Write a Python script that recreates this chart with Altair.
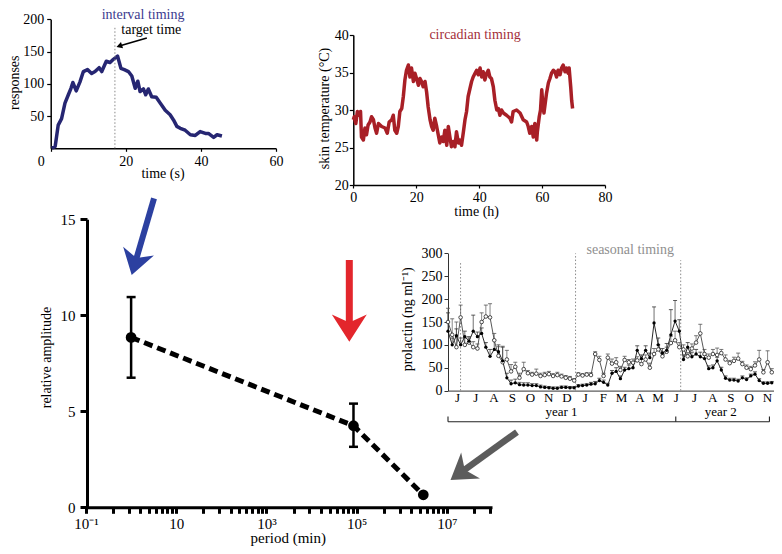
import altair as alt
import pandas as pd

FONT = "Liberation Serif"
W, H = 766, 538

# ---------------- interval timing (top left) ----------------
a_time = [0.3, 1.2, 2.0, 2.9, 3.8, 4.7, 5.4, 5.9, 6.8, 7.8, 8.7, 9.8, 10.9, 11.8, 12.9, 13.6,
          14.8, 15.8, 16.7, 17.8, 18.7, 19.6, 20.7, 21.6, 22.5, 23.2, 23.8, 24.7, 25.3, 26.0,
          26.9, 28.1, 29.2, 30.5, 31.8, 32.7, 33.6, 34.5, 35.8, 37.2, 38.5, 39.8, 41.2, 42.0,
          43.4, 44.3, 45.6]
a_resp = [0, 3, 36, 46, 70, 83, 93, 102, 89, 103, 119, 122, 116, 119, 125, 119,
          135, 133, 138, 143, 124, 122, 119, 112, 93, 104, 88, 92, 83, 92,
          80, 79, 70, 59, 52, 44, 34, 31, 28, 21, 20, 26, 23, 23,
          17, 21, 19]
a_target_time = [17.1]
a_target_top = [190]
a_title = ["interval timing"]
a_title_pos = [24.6, 206.5]
a_note = ["target time"]
a_note_pos = [18.8, 184]
a_arrow_tail = [25.6, 171]
a_arrow_head = [18.5, 159]
a_xtitle = ["time (s)"]
a_xtitle_pos = [29.9, -39.8]
a_ytitle = ["responses"]
a_ytitle_pos = [-9.5, 101.7]

# ---------------- circadian timing (top middle) ----------------
b_time = [0, 0.3, 0.8, 1.3, 1.9, 2.3, 2.6, 3.2, 3.7, 4.2, 4.7, 5.3, 5.8, 6.4, 6.9, 7.4,
          8.0, 9.0, 10.1, 10.8, 11.4, 12.2, 12.7, 13.2, 13.8, 14.3, 14.8, 15.4, 15.9, 16.4,
          16.9, 17.5, 18.0, 18.5, 19.1, 19.6, 20.1, 20.7, 21.2, 21.7, 22.2, 22.8, 23.3, 23.8,
          24.4, 24.9, 25.4, 25.9, 26.5, 27.0, 27.5, 28.1, 28.6, 29.1, 29.7, 30.2, 30.7, 31.2,
          31.8, 32.3, 32.8, 33.4, 33.9, 34.4, 35.0, 35.5, 36.0, 36.5, 37.1, 37.6, 38.1, 38.7,
          39.2, 39.7, 40.3, 40.8, 41.3, 41.8, 42.4, 42.9, 43.4, 43.9, 44.5, 45.0, 45.6, 46.1,
          46.6, 47.1, 47.7, 48.7, 49.8, 50.3, 50.8, 51.9, 53.0, 54.0, 55.1, 55.6, 56.1, 56.7,
          57.2, 57.7, 58.3, 58.5, 59.1, 59.5, 59.9, 60.2, 60.6, 61.0, 61.4, 62.0, 62.5, 63.0,
          63.6, 64.1, 64.6, 65.1, 65.7, 66.2, 66.7, 67.3, 67.8, 68.3, 68.6, 69.1, 69.4, 69.7]
b_temp = [28.7, 29.1, 28.2, 29.8, 29.3, 29.8, 26.4, 26.0, 27.6, 26.7, 28.0, 28.4, 29.1, 28.7, 27.6, 26.9,
          28.2, 27.8, 27.6, 26.9, 28.4, 28.7, 29.3, 27.3, 26.9, 27.8, 29.8, 30.2, 31.8, 34.0,
          35.3, 36.0, 34.4, 35.6, 33.8, 34.9, 34.2, 33.3, 34.2, 33.8, 33.1, 33.8, 32.4, 30.4,
          28.7, 27.8, 27.3, 28.9, 27.8, 26.7, 25.6, 26.4, 25.8, 27.3, 25.3, 27.8, 26.4, 25.1,
          25.8, 25.1, 27.1, 25.6, 26.0, 25.3, 27.1, 28.7, 29.8, 31.8, 32.9, 33.8, 34.4, 34.9,
          35.3, 34.7, 35.6, 34.4, 35.1, 34.0, 34.9, 35.3, 34.4, 34.2, 33.1, 31.3, 30.0, 30.2,
          29.3, 30.0, 29.6, 29.3, 28.9, 28.4, 29.8, 30.0, 29.6, 28.7, 28.4, 27.8, 26.9, 27.8,
          26.4, 28.2, 26.0, 27.1, 29.1, 30.0, 32.7, 30.9, 29.6, 30.9, 32.2, 33.6, 34.2, 34.9,
          35.3, 35.1, 34.4, 35.3, 34.7, 35.6, 36.0, 35.1, 35.6, 34.9, 35.6, 33.1, 31.3, 30.2]
b_title = ["circadian timing"]
b_title_pos = [38.7, 40]
b_xtitle = ["time (h)"]
b_xtitle_pos = [39.2, 16.44]
b_ytitle = ["skin temperature (°C)"]
b_ytitle_pos = [-9.0, 30.2]

# ---------------- seasonal timing (right) ----------------
c_week = list(range(78))
c_filled = [130, 100, 120, 100, 118, 108, 130, 118, 125, 95,
            75, 90, 85, 65, 28, 15, 17, 13, 12, 12,
            11, 11, 8, 7, 6, 5, 5, 7, 7, 6,
            6, 10, 11, 12, 14, 15, 22, 18, 12, 38,
            42, 26, 45, 48, 50, 88, 70, 88, 72, 148,
            100, 82, 88, 122, 152, 130, 68, 95, 74, 80,
            74, 70, 48, 50, 65, 45, 27, 23, 23, 21,
            28, 24, 32, 36, 22, 16, 16, 17]
c_open = [150, 122, 95, 160, 100, 105, 95, 92, 150, 162,
          160, 110, 76, 62, 68, 42, 52, 28, 47, 38,
          35, 37, 32, 34, 36, 32, 34, 31, 28, 26,
          22, 35, 33, 35, 34, 80, 67, 32, 72, 59,
          62, 45, 67, 62, 61, 66, 58, 68, 50, 80,
          90, 75, 85, 104, 110, 95, 90, 75, 92, 105,
          125, 80, 72, 80, 78, 82, 68, 60, 65, 70,
          58, 50, 47, 55, 68, 40, 62, 40]
c_filled_err = [40, 15, 15, 15, 12, 10, 35, 10, 12, 10,
                15, 20, 15, 30, 10, 8, 8, 5, 5, 5,
                4, 4, 4, 3, 3, 3, 3, 3, 3, 3,
                3, 3, 3, 3, 4, 5, 5, 5, 4, 6,
                8, 6, 6, 8, 10, 10, 8, 10, 10, 35,
                15, 10, 15, 55, 45, 25, 10, 10, 10, 10,
                10, 8, 6, 6, 8, 6, 5, 4, 4, 4,
                4, 4, 4, 5, 4, 3, 3, 3]
c_open_err = [30, 35, 55, 27, 15, 10, 12, 10, 20, 25,
              30, 15, 20, 35, 20, 15, 10, 10, 15, 6,
              5, 10, 6, 6, 6, 5, 6, 5, 5, 5,
              4, 4, 4, 4, 5, 5, 8, 6, 8, 10,
              10, 8, 8, 6, 8, 8, 10, 10, 10, 12,
              10, 10, 10, 15, 20, 10, 10, 8, 10, 15,
              20, 10, 8, 10, 15, 8, 10, 6, 8, 12,
              6, 6, 6, 8, 20, 6, 25, 8]
c_months = ["J", "J", "A", "S", "O", "N", "D", "J", "F", "M", "A", "M",
            "J", "J", "A", "S", "O", "N"]
c_solstice = [0.69, 7.0, 12.77]
c_solstice_top = [280, 300, 285]
c_title = ["seasonal timing"]
c_title_pos = [10.0, 307]
c_years = ["year 1", "year 2"]
c_year_x = [6.23, 14.97]
c_year_y = [-47, -47]
c_bracket_x = [0.0, 12.5, 17.64]
c_bracket_y = [-68, -56.6]
c_ytitle = ["prolactin (ng ml⁻¹)"]
c_ytitle_pos = [-2.18, 156]

# ---------------- main panel ----------------
d_period = [1.0, 8.5e4, 3.0e6]
d_amp = [8.85, 4.25, 0.65]
d_err_period = [1.0, 8.5e4]
d_err_lo = [6.75, 3.15]
d_err_hi = [10.95, 5.4]
d_major_ticks = [0.1, 10.0, 1e3, 1e5, 1e7]
d_major_labels = ["10⁻¹", "10", "10³", "10⁵", "10⁷"]
d_arrow_blue = [[3.22, 16.09], [1.29, 12.9]]
d_arrow_red = [[6.87e4, 12.88], [6.87e4, 9.54]]
d_arrow_grey = [[3.58e8, 3.92], [2.33e7, 1.91]]
d_xtitle = ["period (min)"]
d_xtitle_pos = [3055, -1.62]
d_ytitle = ["relative amplitude"]
d_ytitle_pos = [0.0135, 7.8]


def X(f, sc, axis=None):
    return alt.X(f, type="quantitative", scale=sc, axis=axis)


def Y(f, sc, axis=None):
    return alt.Y(f, type="quantitative", scale=sc, axis=axis)


def label(txt, pos, xs, ys, size=14, color="black", angle=0, align="center"):
    df = pd.DataFrame({"x": [pos[0]], "y": [pos[1]], "s": txt})
    return alt.Chart(df).mark_text(font=FONT, fontSize=size, fontWeight="normal", color=color,
                                   angle=angle, align=align, baseline="middle").encode(
        x=X("x", xs), y=Y("y", ys), text="s:N")


AX = dict(labelFontWeight=400, labelFont=FONT, grid=False, title=None)
layers = []

# ================= panel A =================
xA = alt.Scale(domain=[0, 60], range=[42.7, 268], nice=False, zero=False)
yA = alt.Scale(domain=[0, 200], range=[140.3, 11.3], nice=False, zero=False)
axA_x = alt.Axis(orient="bottom", offset=140.3 - H, values=[0, 20, 40, 60],
                 labelFontSize=14, tickSize=3, labelPadding=3,
                 domainWidth=1.5, tickWidth=1.2, labelFlush=False,
                 labelOffset={"condition": {"test": "datum.value === 0", "value": -10}, "value": 0}, **AX)
axA_y = alt.Axis(orient="left", offset=-42.7, values=[50, 100, 150, 200],
                 labelFontSize=14, tickSize=4, labelPadding=3,
                 domainWidth=1.5, tickWidth=1.2, **AX)

dfA = pd.DataFrame({"t": a_time, "r": a_resp})
layers.append(alt.Chart(dfA).mark_line(color="#262672", strokeWidth=3.5, strokeJoin="round").encode(
    x=X("t", xA, axA_x), y=Y("r", yA, axA_y)))
layers.append(alt.Chart(pd.DataFrame({"x": a_target_time, "y0": [0], "y1": a_target_top})).mark_rule(
    color="#888888", strokeWidth=1, strokeDash=[1.5, 2]).encode(
    x=X("x", xA), y=Y("y0", yA), y2="y1:Q"))
layers.append(label(a_title, a_title_pos, xA, yA, color="#3b3b8f"))
layers.append(label(a_note, a_note_pos, xA, yA, align="left"))
layers.append(label(a_xtitle, a_xtitle_pos, xA, yA))
layers.append(label(a_ytitle, a_ytitle_pos, xA, yA, angle=270))
layers.append(alt.Chart(pd.DataFrame({"x": [a_arrow_tail[0]], "y": [a_arrow_tail[1]],
                                      "x2": [a_arrow_head[0]], "y2": [a_arrow_head[1]]})).mark_rule(
    color="black", strokeWidth=1.6).encode(x=X("x", xA), y=Y("y", yA), x2="x2:Q", y2="y2:Q"))
layers.append(alt.Chart(pd.DataFrame({"x": [a_arrow_head[0]], "y": [a_arrow_head[1]]})).mark_point(
    shape="triangle", filled=True, size=45, angle=252, color="black", opacity=1).encode(
    x=X("x", xA), y=Y("y", yA)))

# ================= panel B =================
xB = alt.Scale(domain=[0, 80], range=[345.3, 597], nice=False, zero=False)
yB = alt.Scale(domain=[20, 40], range=[177, 27], nice=False, zero=False)
axB_x = alt.Axis(orient="bottom", offset=177 - H, values=[0, 20, 40, 60, 80],
                 labelFontSize=14, tickSize=3, labelPadding=2,
                 domainWidth=1.5, tickWidth=1.2, labelFlush=False, **AX)
axB_y = alt.Axis(orient="left", offset=-345.3, values=[20, 25, 30, 35, 40],
                 labelFontSize=14, tickSize=4, labelPadding=1,
                 domainWidth=1.5, tickWidth=1.2, **AX)
dfB = pd.DataFrame({"t": b_time, "c": b_temp})
layers.append(alt.Chart(dfB).mark_line(color="#a81f26", strokeWidth=3.5, strokeJoin="round").encode(
    x=X("t", xB, axB_x), y=Y("c", yB, axB_y)))
layers.append(label(b_title, b_title_pos, xB, yB, color="#a3303a"))
layers.append(label(b_xtitle, b_xtitle_pos, xB, yB))
layers.append(label(b_ytitle, b_ytitle_pos, xB, yB, angle=270))

# ================= panel C =================
xC = alt.Scale(domain=[0, 18], range=[440, 768], nice=False, zero=False)
yC = alt.Scale(domain=[0, 300], range=[382.6, 245.4], nice=False, zero=False)
month_expr = "[" + ",".join("'%s'" % m for m in c_months) + "][floor(datum.value)]"
axC_x = alt.Axis(orient="bottom", offset=382.6 - H, values=[i + 0.5 for i in range(len(c_months))],
                 labelExpr=month_expr, labelFontSize=13, ticks=False, tickSize=0,
                 labelPadding=1, domainWidth=1, domainColor="#333333", labelFlush=False, **AX)
axC_y = alt.Axis(orient="left", offset=-440, values=[0, 50, 100, 150, 200, 250, 300],
                 labelFontSize=14, tickSize=4, labelPadding=2, domainWidth=1,
                 domainColor="#333333", tickColor="#333333", **AX)

dfC = pd.DataFrame({"week": c_week, "F": c_filled, "O": c_open, "Fe": c_filled_err, "Oe": c_open_err})
dfC["m"] = dfC["week"] * 12 / 52
dfC["Fh"] = dfC["F"] + dfC["Fe"]
dfC["Oh"] = dfC["O"] + dfC["Oe"]

layers.append(alt.Chart(dfC).mark_line(color="#111111", strokeWidth=0.9).encode(
    x=X("m", xC, axC_x), y=Y("F", yC, axC_y)))
layers.append(alt.Chart(pd.DataFrame({"x": c_solstice, "y0": [0, 0, 0], "y1": c_solstice_top})).mark_rule(
    color="#8a8a8a", strokeWidth=1, strokeDash=[1.5, 2]).encode(x=X("x", xC), y=Y("y0", yC), y2="y1:Q"))
layers.append(alt.Chart(dfC).mark_rule(color="#555555", strokeWidth=0.7).encode(
    x=X("m", xC), y=Y("O", yC), y2="Oh:Q"))
layers.append(alt.Chart(dfC).mark_point(shape="stroke", size=16, strokeWidth=0.8, color="#555555", opacity=1).encode(
    x=X("m", xC), y=Y("Oh", yC)))
layers.append(alt.Chart(dfC).mark_rule(color="#333333", strokeWidth=0.7).encode(
    x=X("m", xC), y=Y("F", yC), y2="Fh:Q"))
layers.append(alt.Chart(dfC).mark_point(shape="stroke", size=16, strokeWidth=0.8, color="#333333", opacity=1).encode(
    x=X("m", xC), y=Y("Fh", yC)))
layers.append(alt.Chart(dfC).mark_line(color="#444444", strokeWidth=0.9).encode(
    x=X("m", xC), y=Y("O", yC)))
layers.append(alt.Chart(dfC).mark_point(shape="circle", filled=True, fill="white", stroke="#222222",
                                        strokeWidth=0.8, size=13, opacity=1).encode(
    x=X("m", xC), y=Y("O", yC)))
layers.append(alt.Chart(dfC).mark_point(shape="circle", filled=True, size=11, color="black", opacity=1).encode(
    x=X("m", xC), y=Y("F", yC)))
layers.append(label(c_title, c_title_pos, xC, yC, color="#8f8f8f"))
layers.append(label(c_ytitle, c_ytitle_pos, xC, yC, angle=270))
layers.append(alt.Chart(pd.DataFrame({"x": [c_bracket_x[0]], "x2": [c_bracket_x[-1]], "y": [c_bracket_y[0]]})).mark_rule(
    color="#222222", strokeWidth=1.1).encode(x=X("x", xC), x2="x2:Q", y=Y("y", yC)))
layers.append(alt.Chart(pd.DataFrame({"x": c_bracket_x, "y": [c_bracket_y[0]] * 3, "y2": [c_bracket_y[1]] * 3})).mark_rule(
    color="#222222", strokeWidth=1.1).encode(x=X("x", xC), y=Y("y", yC), y2="y2:Q"))
layers.append(alt.Chart(pd.DataFrame({"x": c_year_x, "y": c_year_y, "s": c_years})).mark_text(
    font=FONT, fontSize=13, color="black").encode(x=X("x", xC), y=Y("y", yC), text="s:N"))

# ================= panel D (main) =================
xD = alt.Scale(type="log", domain=[0.1, 1e8], range=[78, 484], nice=False)
yD = alt.Scale(domain=[0, 15], range=[499.3, 211.3], nice=False, zero=False)
tick_vals = []
for mj in d_major_ticks:
    for k in range(1, 10):
        v = mj * k * k
        if v <= 1e8:
            tick_vals.append(v)
label_expr = "".join("datum.value == %r ? '%s' : " % (v, lab)
                     for v, lab in zip(d_major_ticks, d_major_labels)) + "''"
axD_x = alt.Axis(orient="bottom", offset=499.3 - H, values=tick_vals, labelExpr=label_expr,
                 labelFontSize=15, tickSize=6, tickWidth=3, domainWidth=3, labelPadding=3,
                 labelFlush=False, labelOverlap=False, **AX)
axD_y = alt.Axis(orient="left", offset=-79, values=[0, 5, 10, 15],
                 labelFontSize=15, tickSize=7, tickWidth=3, domainWidth=3, labelPadding=5, **AX)

dfD = pd.DataFrame({"p": d_period, "a": d_amp})
dfE = pd.DataFrame({"p": d_err_period, "lo": d_err_lo, "hi": d_err_hi})
layers.append(alt.Chart(dfD).mark_line(color="black", strokeWidth=5, strokeDash=[9, 5]).encode(
    x=X("p", xD, axD_x), y=Y("a", yD, axD_y)))
layers.append(alt.Chart(dfE).mark_rule(color="black", strokeWidth=2.5).encode(
    x=X("p", xD), y=Y("lo", yD), y2="hi:Q"))
layers.append(alt.Chart(dfE).mark_point(shape="stroke", size=81, strokeWidth=2.5, color="black", opacity=1).encode(
    x=X("p", xD), y=Y("lo", yD)))
layers.append(alt.Chart(dfE).mark_point(shape="stroke", size=81, strokeWidth=2.5, color="black", opacity=1).encode(
    x=X("p", xD), y=Y("hi", yD)))
layers.append(alt.Chart(dfD).mark_circle(size=115, color="black", opacity=1).encode(x=X("p", xD), y=Y("a", yD)))
layers.append(label(d_xtitle, d_xtitle_pos, xD, yD, size=15))
layers.append(label(d_ytitle, d_ytitle_pos, xD, yD, size=14, angle=270))

HEAD = "M0,-1 L1,0.55 L0,0.1 L-1,0.55 Z"


def arrow(pts, color, width, size, angle):
    df = pd.DataFrame({"x": [pts[0][0]], "y": [pts[0][1]], "x2": [pts[1][0]], "y2": [pts[1][1]]})
    shaft = alt.Chart(df).mark_rule(color=color, strokeWidth=width, strokeCap="butt").encode(
        x=X("x", xD), y=Y("y", yD), x2="x2:Q", y2="y2:Q")
    head = alt.Chart(df).mark_point(shape=HEAD, filled=True, size=size, angle=angle, color=color,
                                    opacity=1).encode(x=X("x2", xD), y=Y("y2", yD))
    return [shaft, head]


layers += arrow(d_arrow_blue, "#2c40a0", 6, 1024, 196)
layers += arrow(d_arrow_red, "#e3262c", 7, 1225, 180)
layers += arrow(d_arrow_grey, "#5c5c5c", 6.5, 1024, 234)

chart = alt.layer(*layers).resolve_scale(
    x="independent", y="independent").resolve_axis(
    x="independent", y="independent").properties(
    width=W, height=H, autosize=alt.AutoSizeParams(type="none"), padding=0
).configure_view(stroke=None).configure_axis(
    grid=False, labelFont=FONT, labelColor="black",
    domainColor="black", tickColor="black", labelFontWeight=400
).configure_text(font=FONT)

chart.save("out.html", embed_options={"renderer": "svg", "actions": False})
